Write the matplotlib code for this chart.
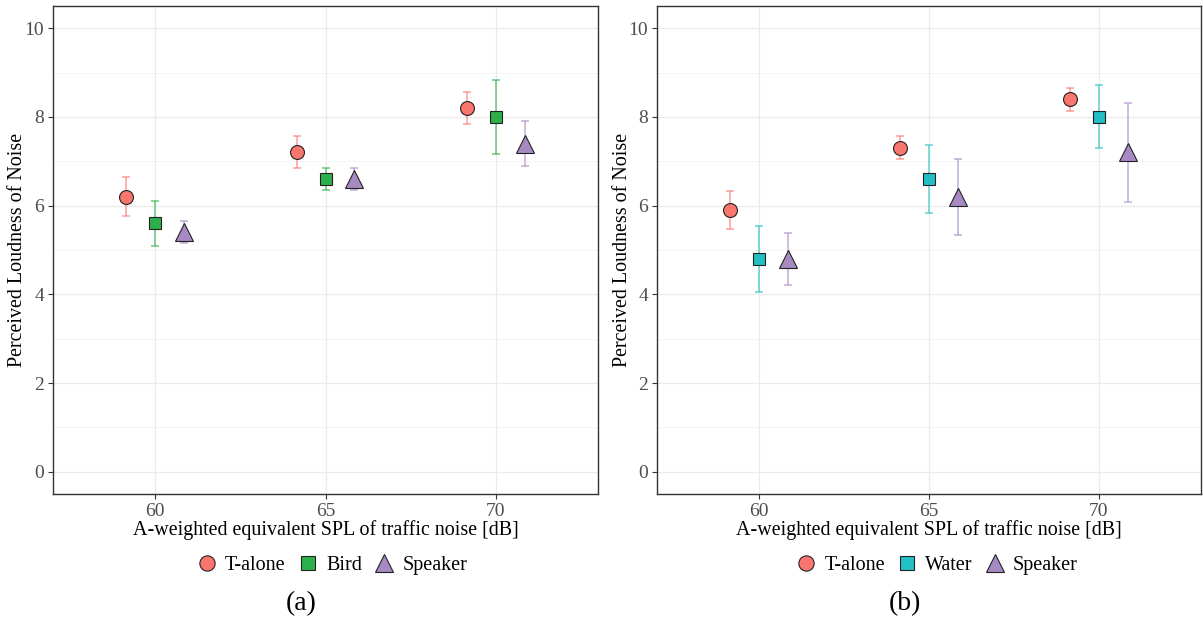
import matplotlib
matplotlib.use("Agg")
import matplotlib.pyplot as plt
from matplotlib.lines import Line2D

plt.rcParams['font.family'] = ['Liberation Serif', 'DejaVu Serif']

spl = [60, 65, 70]
dodge = [-0.85, 0.0, 0.85]

# Panel (a)
a_names = ["T-alone", "Bird", "Speaker"]
a_mean = {"T-alone": [6.2, 7.2, 8.2], "Bird": [5.6, 6.6, 8.0], "Speaker": [5.4, 6.6, 7.4]}
a_err = {"T-alone": [0.44, 0.36, 0.36], "Bird": [0.51, 0.25, 0.84], "Speaker": [0.25, 0.25, 0.51]}

# Panel (b)
b_names = ["T-alone", "Water", "Speaker"]
b_mean = {"T-alone": [5.9, 7.3, 8.4], "Water": [4.8, 6.6, 8.0], "Speaker": [4.8, 6.2, 7.2]}
b_err = {"T-alone": [0.42, 0.26, 0.26], "Water": [0.74, 0.76, 0.71], "Speaker": [0.58, 0.86, 1.11]}

colors = {"T-alone": "#F8766D", "Bird": "#2DB04B", "Water": "#22BFC4", "Speaker": "#A88AC2"}
markers = {"T-alone": "o", "Bird": "s", "Water": "s", "Speaker": "^"}
msizes = {"T-alone": 10, "Bird": 9, "Water": 9, "Speaker": 12.5}

fig = plt.figure(figsize=(12.03, 6.22), dpi=100)
axA = fig.add_axes([53/1203, 1-494/622, 545/1203, 488/622])
axB = fig.add_axes([657/1203, 1-494/622, 544/1203, 488/622])


def draw(ax, names, means, errs, label, lx, ylab_x):
    for i, n in enumerate(names):
        xs = [s + dodge[i] for s in spl]
        ax.errorbar(xs, means[n], yerr=errs[n], fmt='none', ecolor=colors[n],
                    alpha=0.7, elinewidth=1.1, capsize=3, capthick=1.1, zorder=2)
        ax.plot(xs, means[n], linestyle='none', marker=markers[n], markersize=msizes[n],
                markerfacecolor=colors[n], markeredgecolor='#222222', markeredgewidth=0.8, zorder=3)
    ax.set_xlim(57, 73)
    ax.set_ylim(-0.5, 10.5)
    ax.set_xticks(spl)
    ax.set_yticks([0, 2, 4, 6, 8, 10])
    ax.set_yticks([1, 3, 5, 7, 9], minor=True)
    ax.grid(True, which='major', color='#EBEBEB', linewidth=0.9)
    ax.grid(True, which='minor', axis='y', color='#F2F2F2', linewidth=0.6)
    ax.set_axisbelow(True)
    ax.tick_params(axis='both', which='major', labelsize=14, colors='#333333',
                   labelcolor='#4D4D4D', length=3.5, width=0.8, pad=3)
    ax.tick_params(axis='y', which='minor', length=0)
    for sp in ax.spines.values():
        sp.set_color('#333333')
        sp.set_linewidth(1.0)
    ax.set_xlabel("A-weighted equivalent SPL of traffic noise [dB]", fontsize=14.4, labelpad=0)
    ax.set_ylabel("Perceived Loudness of Noise", fontsize=14.4)
    ax.yaxis.set_label_coords(ylab_x, 0.5)
    handles = [Line2D([], [], linestyle='none', marker=markers[n], markersize=msizes[n] + 1 if n != "Speaker" else msizes[n],
                      markerfacecolor=colors[n], markeredgecolor='#222222', markeredgewidth=0.8)
               for n in names]
    fig.legend(handles, names, loc='center', bbox_to_anchor=(lx, 1 - 565/622), ncol=3,
               frameon=False, fontsize=14.5, handletextpad=0.3, columnspacing=0.5,
               handlelength=1.2)
    fig.text(ax.get_position().x0 + 0.5 * ax.get_position().width - 0.02, 1 - 604/622, label,
             ha='center', va='center', fontsize=20)


draw(axA, a_names, a_mean, a_err, "(a)", 331/1203, -0.048)
draw(axB, b_names, b_mean, b_err, "(b)", 936/1203, -0.046)

fig.savefig("out.png", dpi=100)
